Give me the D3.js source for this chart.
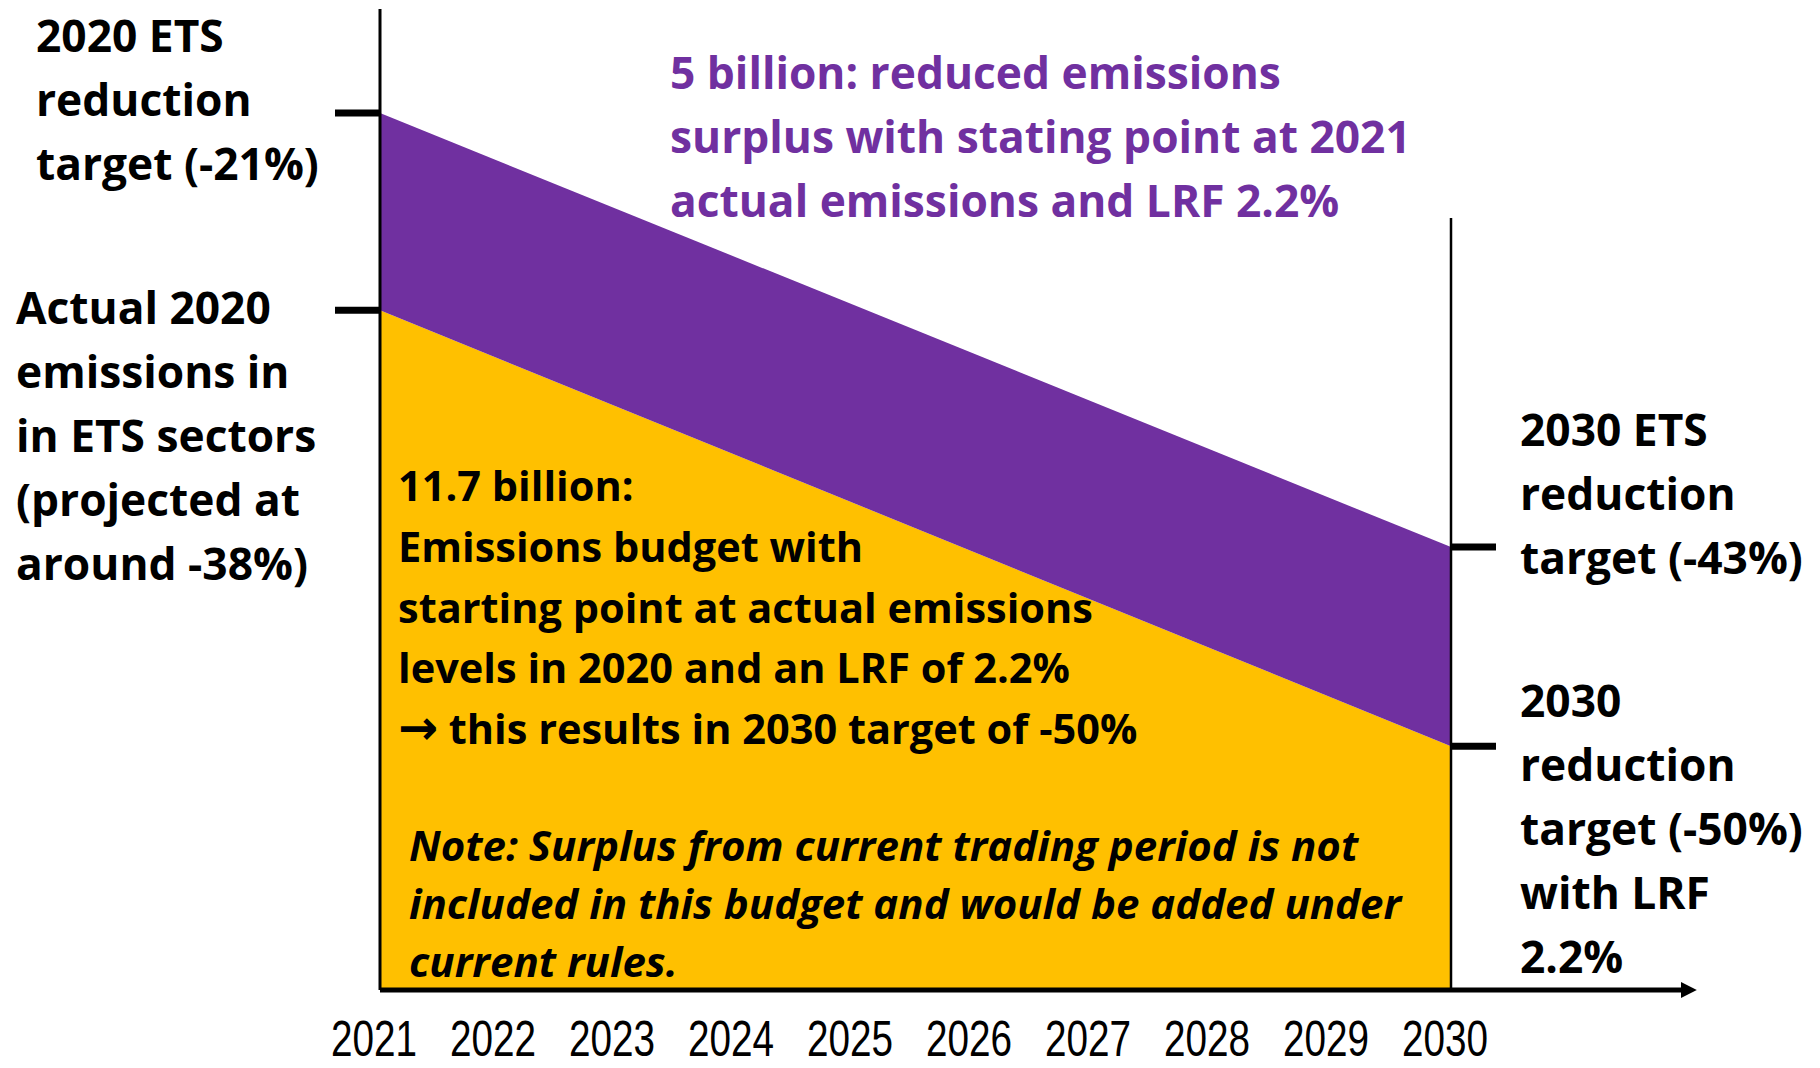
<!DOCTYPE html>
<html>
<head>
<meta charset="utf-8">
<script src="https://cdn.jsdelivr.net/npm/d3@7"></script>
<style>
  body { margin: 0; background: #fff; }
  svg text { font-family: "Open Sans", sans-serif; font-weight: bold; }
</style>
</head>
<body>
<svg id="chart"></svg>
<script>
// Years along the x axis
const years = [2021, 2022, 2023, 2024, 2025, 2026, 2027, 2028, 2029, 2030];

// Schematic emission levels (index) at start and end year
const capYears = [2021, 2030];
const capValues = [100, 50.5];        // ETS cap path (top of purple band)
const actualValues = [77.5, 27.8];    // path from actual 2020 emissions (top of yellow)

// Text blocks
const leftTopLabel = ["2020 ETS", "reduction", "target (-21%)"];
const leftBottomLabel = ["Actual 2020", "emissions in", "in ETS sectors", "(projected at", "around -38%)"];
const purpleLabel = ["5 billion: reduced emissions", "surplus with stating point at 2021", "actual emissions and LRF 2.2%"];
const rightTopLabel = ["2030 ETS", "reduction", "target (-43%)"];
const rightBottomLabel = ["2030", "reduction", "target (-50%)", "with LRF", "2.2%"];
const yellowLabel = ["11.7 billion:", "Emissions budget with", "starting point at actual emissions", "levels in 2020 and an LRF of 2.2%", "\u2192 this results in 2030 target of -50%"];
const noteLabel = ["Note: Surplus from current trading period is not", "included in this budget and would be added under", "current rules."];

const W = 1820, H = 1068;
const svg = d3.select('#chart').attr('width', W).attr('height', H);

// Scales
const x = d3.scaleLinear().domain([2021, 2030]).range([380, 1451]);
const y = d3.scaleLinear().domain([0, 100]).range([990, 113]);

const capData = capYears.map((yr, i) => ({ year: yr, cap: capValues[i], actual: actualValues[i] }));

// Yellow area: from axis up to the actual-emissions path
svg.append('path')
    .datum(capData)
    .attr('fill', '#FFC000')
    .attr('d', d3.area().x(d => x(d.year)).y0(y(0)).y1(d => y(d.actual)));

// Purple band between the two paths
svg.append('path')
    .datum(capData)
    .attr('fill', '#7030A0')
    .attr('d', d3.area().x(d => x(d.year)).y0(d => y(d.actual)).y1(d => y(d.cap)));

// Arrow marker for the x axis
svg.append('defs').append('marker')
    .attr('id', 'arrow')
    .attr('viewBox', '0 0 10 10')
    .attr('refX', 2).attr('refY', 5)
    .attr('markerWidth', 3.2).attr('markerHeight', 3.2)
    .attr('orient', 'auto')
    .append('path').attr('d', 'M0,0 L10,5 L0,10 Z').attr('fill', '#000');

// x axis line with arrow
svg.append('line')
    .attr('x1', x(2021)).attr('x2', 1684)
    .attr('y1', y(0)).attr('y2', y(0))
    .attr('stroke', '#000').attr('stroke-width', 5)
    .attr('marker-end', 'url(#arrow)');

// vertical lines at start and end year
svg.append('line')
    .attr('x1', x(2021)).attr('x2', x(2021))
    .attr('y1', 9).attr('y2', y(0))
    .attr('stroke', '#000').attr('stroke-width', 3);
svg.append('line')
    .attr('x1', x(2030)).attr('x2', x(2030))
    .attr('y1', 218).attr('y2', y(0))
    .attr('stroke', '#000').attr('stroke-width', 2.5);

// tick marks at the path end points
const tickLen = 45;
[capValues[0], actualValues[0]].forEach(v => {
    svg.append('line')
        .attr('x1', x(2021) - tickLen).attr('x2', x(2021))
        .attr('y1', y(v)).attr('y2', y(v))
        .attr('stroke', '#000').attr('stroke-width', 7);
});
[capValues[1], actualValues[1]].forEach(v => {
    svg.append('line')
        .attr('x1', x(2030)).attr('x2', x(2030) + tickLen)
        .attr('y1', y(v)).attr('y2', y(v))
        .attr('stroke', '#000').attr('stroke-width', 7);
});

// year labels (narrow, regular weight)
svg.append('g')
    .selectAll('text')
    .data(years)
    .join('text')
    .attr('transform', d => `translate(${x(d) - 6},1056) scale(0.86,1.1)`)
    .attr('text-anchor', 'middle')
    .style('font-family', '"Liberation Sans", sans-serif')
    .style('font-weight', 'normal')
    .style('font-size', '45px')
    .text(d => d);

// helper for multi-line text blocks
function textBlock(lines, x0, y0, step, size, color, italic) {
    const t = svg.append('text')
        .attr('x', x0).attr('y', y0)
        .style('font-size', size + 'px')
        .attr('fill', color);
    if (italic) t.style('font-style', 'italic');
    lines.forEach((line, i) => {
        const row = t.append('tspan').attr('x', x0).attr('y', y0 + i * step);
        if (line.startsWith('\u2192')) {
            // bolder arrow glyph like the original
            row.append('tspan')
                .style('font-family', '"DejaVu Sans", sans-serif')
                .style('font-size', (size * 1.15) + 'px')
                .text('\u2192');
            row.append('tspan').text(line.slice(1));
        } else {
            row.text(line);
        }
    });
}

textBlock(leftTopLabel, 36, 52, 64, 44.3, '#000');
textBlock(leftBottomLabel, 16, 324, 64, 44.3, '#000');
textBlock(purpleLabel, 670, 89, 64, 44.3, '#7030A0');
textBlock(rightTopLabel, 1520, 446, 64, 44.3, '#000');
textBlock(rightBottomLabel, 1520, 717, 64, 44.3, '#000');
textBlock(yellowLabel, 398, 501, 60.8, 41.5, '#000');
textBlock(noteLabel, 409, 861, 58, 42, '#000', true);
</script>
</body>
</html>
